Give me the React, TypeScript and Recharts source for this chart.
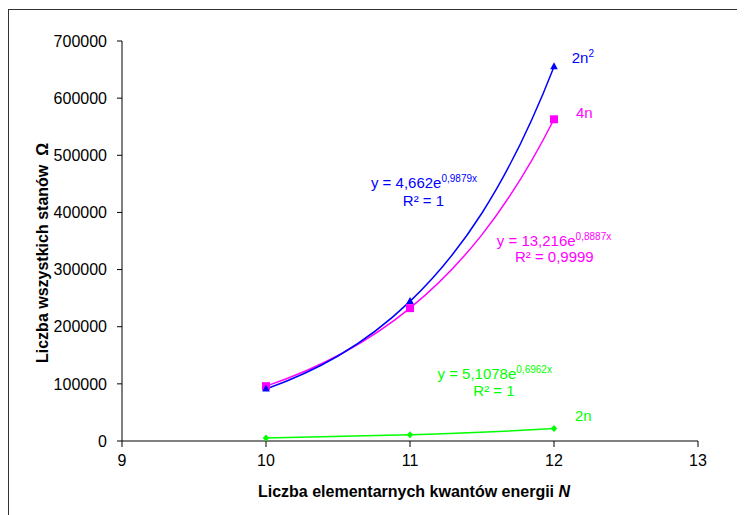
import React from 'react';
import { LineChart, Line, XAxis, YAxis } from 'recharts';

const nValues = [10, 11, 12];
const series2n2 = [91000, 244300, 655000];
const series4n = [96000, 232500, 563000];
const series2n = [5400, 10850, 21750];
const xTicks = [9, 10, 11, 12, 13];
const yTicks = [0, 100000, 200000, 300000, 400000, 500000, 600000, 700000];

const data = nValues.map((n, i) => ({ n, a: series2n2[i], b: series4n[i], c: series2n[i] }));

const FONT = '"Liberation Sans", Arial, sans-serif';
const BLUE = '#0000FF';
const MAGENTA = '#FF00FF';
const GREEN = '#00FF00';

const CHART_W = 737;
const CHART_H = 507;
const MARGIN = { top: 33, right: 47, bottom: 34, left: 50 };
const XAXIS_H = 40;
// pixel row of the value 0 (y domain starts at 0)
const ZERO_Y = CHART_H - MARGIN.bottom - XAXIS_H;

// Exponential-trend style curve: each segment is a cubic Bezier whose end
// tangents follow exponential growth between the two points.
const expCurve = (context: any) => {
  let pts: number[][] = [];
  return {
    areaStart() {},
    areaEnd() {},
    lineStart() {
      pts = [];
    },
    point(x: number, y: number) {
      pts.push([+x, +y]);
    },
    lineEnd() {
      const n = pts.length;
      if (!n) return;
      context.moveTo(pts[0][0], pts[0][1]);
      for (let i = 0; i < n - 1; i++) {
        const [x1, y1] = pts[i];
        const [x2, y2] = pts[i + 1];
        const v1 = ZERO_Y - y1;
        const v2 = ZERO_Y - y2;
        if (v1 <= 0 || v2 <= 0) {
          context.lineTo(x2, y2);
          continue;
        }
        const k = Math.log(v2 / v1);
        const dx = x2 - x1;
        context.bezierCurveTo(x1 + dx / 3, y1 - (v1 * k) / 3, x2 - dx / 3, y2 + (v2 * k) / 3, x2, y2);
      }
    },
  };
};

const TriangleDot = (props: any) => {
  const { cx, cy, index } = props;
  return (
    <polygon
      key={`t-${index}`}
      points={`${cx},${cy - 4.5} ${cx + 3.8},${cy + 2.5} ${cx - 3.8},${cy + 2.5}`}
      fill={BLUE}
    />
  );
};
const SquareDot = (props: any) => {
  const { cx, cy, index } = props;
  return <rect key={`s-${index}`} x={cx - 4} y={cy - 4} width={8} height={8} fill={MAGENTA} />;
};
const DiamondDot = (props: any) => {
  const { cx, cy, index } = props;
  return (
    <polygon
      key={`d-${index}`}
      points={`${cx},${cy - 3.5} ${cx + 3.2},${cy} ${cx},${cy + 3.5} ${cx - 3.2},${cy}`}
      fill={GREEN}
    />
  );
};

export default function App() {
  return (
    <div style={{ position: 'relative', width: CHART_W, height: CHART_H, overflow: 'hidden', fontFamily: FONT }}>
      <div
        style={{
          position: 'absolute',
          left: 0,
          top: 1,
          width: 1000,
          height: 1000,
          borderTop: '1px solid #333',
          borderLeft: '1px solid #333',
        }}
      />
      <div style={{ position: 'absolute', left: 0, top: 0 }}>
        <LineChart width={CHART_W} height={CHART_H} data={data} margin={MARGIN}>
          <XAxis
            dataKey="n"
            type="number"
            domain={[9, 13]}
            ticks={xTicks}
            height={XAXIS_H}
            stroke="#000"
            tickSize={6}
            tickMargin={8}
            tick={{ fontSize: 16, fill: '#000', fontFamily: FONT }}
          />
          <YAxis
            type="number"
            domain={[0, 700000]}
            ticks={yTicks}
            width={64}
            stroke="#000"
            tickSize={5}
            tickMargin={10}
            interval={0}
            tick={{ fontSize: 16, fill: '#000', fontFamily: FONT }}
          />
          <Line
            dataKey="b"
            type={expCurve as any}
            stroke={MAGENTA}
            strokeWidth={1.5}
            dot={SquareDot}
            activeDot={false}
            isAnimationActive={false}
          />
          <Line
            dataKey="a"
            type={expCurve as any}
            stroke={BLUE}
            strokeWidth={1.5}
            dot={TriangleDot}
            activeDot={false}
            isAnimationActive={false}
          />
          <Line
            dataKey="c"
            type={expCurve as any}
            stroke={GREEN}
            strokeWidth={1.5}
            dot={DiamondDot}
            activeDot={false}
            isAnimationActive={false}
          />
        </LineChart>
      </div>
      <svg
        width={CHART_W}
        height={CHART_H}
        style={{ position: 'absolute', left: 0, top: 0, pointerEvents: 'none' }}
        fontFamily={FONT}
      >
        {/* series names */}
        <text x={563.7} y={55.3} fontSize={15} fill={BLUE}>
          2n<tspan fontSize={10} dy={-6}>2</tspan>
        </text>
        <text x={568} y={110.3} fontSize={15} fill={MAGENTA}>4n</text>
        <text x={567} y={413} fontSize={15} fill={GREEN}>2n</text>

        {/* trendline equations */}
        <text x={416} y={180.3} fontSize={15} fill={BLUE} textAnchor="middle">
          y = 4,662e<tspan fontSize={10} dy={-6}>0,9879x</tspan>
        </text>
        <text x={415.5} y={198} fontSize={15} fill={BLUE} textAnchor="middle">R² = 1</text>

        <text x={546} y={238} fontSize={15} fill={MAGENTA} textAnchor="middle">
          y = 13,216e<tspan fontSize={10} dy={-6}>0,8887x</tspan>
        </text>
        <text x={546.3} y={253.7} fontSize={15} fill={MAGENTA} textAnchor="middle">R² = 0,9999</text>

        <text x={486.7} y={371.3} fontSize={15} fill={GREEN} textAnchor="middle">
          y = 5,1078e<tspan fontSize={10} dy={-6}>0,6962x</tspan>
        </text>
        <text x={486} y={388} fontSize={15} fill={GREEN} textAnchor="middle">R² = 1</text>

        {/* axis titles */}
        <text x={406} y={488.7} fontSize={16} fontWeight="bold" fill="#000" textAnchor="middle">
          Liczba elementarnych kwantów energii <tspan fontStyle="italic">N</tspan>
        </text>
        <text
          transform="translate(39.5,245) rotate(-90)"
          fontSize={16}
          fontWeight="bold"
          fill="#000"
          textAnchor="middle"
        >
          Liczba wszystkich stanów{'\u00A0\u00A0'}Ω
        </text>
      </svg>
    </div>
  );
}
